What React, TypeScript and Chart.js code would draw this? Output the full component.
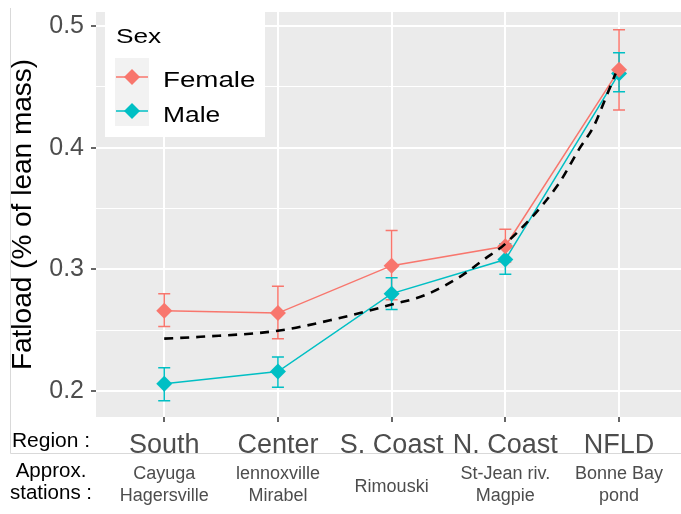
import React, { useEffect, useRef } from 'react';
import { Chart, registerables } from 'chart.js';

Chart.register(...registerables);

const FONT = '"Liberation Sans", Arial, sans-serif';

const categories = ['South', 'Center', 'S. Coast', 'N. Coast', 'NFLD'];
const stationsLine1 = ['Cayuga', 'lennoxville', '', 'St-Jean riv.', 'Bonne Bay'];
const stationsLine2 = ['Hagersville', 'Mirabel', '', 'Magpie', 'pond'];
const stationsMiddle = ['', '', 'Rimouski', '', ''];

const yTicks = [0.2, 0.25, 0.3, 0.35, 0.4, 0.45, 0.5];
const yTickLabels = ['0.2', '', '0.3', '', '0.4', '', '0.5'];

const femaleMean = [0.266, 0.264, 0.303, 0.319, 0.464];
const femaleLow = [0.253, 0.243, 0.275, 0.306, 0.431];
const femaleHigh = [0.280, 0.286, 0.332, 0.333, 0.497];

const maleMean = [0.206, 0.216, 0.280, 0.308, 0.461];
const maleLow = [0.192, 0.203, 0.267, 0.296, 0.446];
const maleHigh = [0.219, 0.228, 0.293, 0.321, 0.478];

const trendX = [0, 0.32, 1, 1.5, 2, 2.3, 2.62, 2.81, 3, 3.46, 3.65, 3.78, 3.87, 3.97];
const trendY = [0.243, 0.2445, 0.2495, 0.259, 0.271, 0.279, 0.295, 0.308, 0.321, 0.369, 0.399, 0.418, 0.438, 0.461];

const FEMALE = '#F8766D';
const MALE = '#00BFC4';

function txt(ctx: CanvasRenderingContext2D, s: string, x: number, y: number, size: number, color: string, align: CanvasTextAlign, sx = 1) {
  ctx.save();
  ctx.font = `${size}px ${FONT}`;
  ctx.fillStyle = color;
  ctx.textBaseline = 'alphabetic';
  ctx.textAlign = align;
  ctx.translate(x, y);
  ctx.scale(sx, 1);
  ctx.fillText(s, 0, 0);
  ctx.restore();
}

const panelBg = {
  id: 'panelBg',
  beforeDraw(chart: any) {
    const { ctx, chartArea: a } = chart;
    ctx.save();
    ctx.fillStyle = '#FFFFFF';
    ctx.fillRect(0, 0, chart.width, chart.height);
    ctx.fillStyle = '#EBEBEB';
    ctx.fillRect(a.left, a.top, a.right - a.left, a.bottom - a.top);
    ctx.restore();
  },
};

const errorBars = {
  id: 'errorBars',
  beforeDatasetsDraw(chart: any) {
    const { ctx } = chart;
    const xs = chart.scales.x;
    const ys = chart.scales.y;
    const series = [
      { color: FEMALE, low: femaleLow, high: femaleHigh },
      { color: MALE, low: maleLow, high: maleHigh },
    ];
    ctx.save();
    ctx.lineWidth = 1.5;
    series.forEach((s) => {
      ctx.strokeStyle = s.color;
      categories.forEach((_, i) => {
        const px = xs.getPixelForValue(i);
        const lo = ys.getPixelForValue(s.low[i]);
        const hi = ys.getPixelForValue(s.high[i]);
        ctx.beginPath();
        ctx.moveTo(px, lo);
        ctx.lineTo(px, hi);
        ctx.moveTo(px - 6, lo);
        ctx.lineTo(px + 6, lo);
        ctx.moveTo(px - 6, hi);
        ctx.lineTo(px + 6, hi);
        ctx.stroke();
      });
    });
    ctx.restore();
  },
};

const overlay = {
  id: 'overlay',
  afterDraw(chart: any) {
    const { ctx } = chart;
    const xs = chart.scales.x;
    ctx.save();
    // legend box
    ctx.fillStyle = '#FFFFFF';
    ctx.fillRect(105, 12, 160, 125);
    ctx.fillStyle = '#F2F2F2';
    ctx.fillRect(115, 58, 34, 68);
    const keys = [
      { label: 'Female', color: FEMALE, y: 77 },
      { label: 'Male', color: MALE, y: 111 },
    ];
    keys.forEach((k) => {
      ctx.strokeStyle = k.color;
      ctx.lineWidth = 1.5;
      ctx.beginPath();
      ctx.moveTo(116, k.y);
      ctx.lineTo(148, k.y);
      ctx.stroke();
      ctx.fillStyle = k.color;
      ctx.beginPath();
      ctx.moveTo(132, k.y - 8);
      ctx.lineTo(140, k.y);
      ctx.lineTo(132, k.y + 8);
      ctx.lineTo(124, k.y);
      ctx.closePath();
      ctx.fill();
    });
    txt(ctx, 'Sex', 116, 43, 21, '#000', 'left', 1.25);
    txt(ctx, 'Female', 163, 87, 22, '#000', 'left', 1.26);
    txt(ctx, 'Male', 163, 121.5, 22, '#000', 'left', 1.2);

    // border
    ctx.strokeStyle = '#D9D9D9';
    ctx.lineWidth = 1;
    ctx.beginPath();
    ctx.moveTo(10.5, 8);
    ctx.lineTo(10.5, 453.5);
    ctx.lineTo(681, 453.5);
    ctx.stroke();

    // bottom texts
    txt(ctx, 'Region :', 51, 447, 21, '#000', 'center');
    txt(ctx, 'Approx.', 51, 477, 20.5, '#000', 'center');
    txt(ctx, 'stations :', 51, 499, 20.5, '#000', 'center');
    categories.forEach((_, i) => {
      const px = xs.getPixelForValue(i);
      if (stationsLine1[i]) txt(ctx, stationsLine1[i], px, 479, 18, '#4D4D4D', 'center');
      if (stationsLine2[i]) txt(ctx, stationsLine2[i], px, 501, 18, '#4D4D4D', 'center');
      if (stationsMiddle[i]) txt(ctx, stationsMiddle[i], px, 492, 18, '#4D4D4D', 'center');
    });
    ctx.restore();
  },
};

const isMajor = (v: number) => Math.abs(v * 10 - Math.round(v * 10)) < 1e-6;

export default function App() {
  const ref = useRef<HTMLCanvasElement | null>(null);
  useEffect(() => {
    if (!ref.current) return;
    const chart = new Chart(ref.current, {
      type: 'line',
      data: {
        datasets: [
          {
            label: 'trend',
            data: trendX.map((x, i) => ({ x, y: trendY[i] })),
            borderColor: '#000',
            borderWidth: 2.6,
            borderDash: [9, 7],
            pointRadius: 0,
            cubicInterpolationMode: 'monotone',
            fill: false,
          },
          {
            label: 'Female',
            data: femaleMean.map((y, i) => ({ x: i, y })),
            borderColor: FEMALE,
            backgroundColor: FEMALE,
            borderWidth: 1.5,
            pointStyle: 'rectRot',
            pointRadius: 8,
            pointBorderWidth: 0,
            pointBackgroundColor: FEMALE,
            fill: false,
          },
          {
            label: 'Male',
            data: maleMean.map((y, i) => ({ x: i, y })),
            borderColor: MALE,
            backgroundColor: MALE,
            borderWidth: 1.5,
            pointStyle: 'rectRot',
            pointRadius: 8,
            pointBorderWidth: 0,
            pointBackgroundColor: MALE,
            fill: false,
          },
        ],
      } as any,
      options: {
        responsive: false,
        animation: false,
        devicePixelRatio: 1,
        layout: { autoPadding: false, padding: { top: 12, left: 0, right: 0, bottom: 0 } },
        plugins: { legend: { display: false }, tooltip: { enabled: false } },
        scales: {
          x: {
            type: 'linear',
            min: -0.6,
            max: 4.545,
            afterBuildTicks: (s: any) => {
              s.ticks = categories.map((_, i) => ({ value: i }));
            },
            afterFit: (s: any) => {
              s.height = 97;
              s.paddingLeft = 0;
              s.paddingRight = 0;
            },
            ticks: {
              callback: (v: any) => categories[Math.round(v)] ?? '',
              font: { family: FONT, size: 27 },
              color: '#4D4D4D',
              padding: 7,
              maxRotation: 0,
              autoSkip: false,
            },
            grid: { color: '#FFFFFF', lineWidth: 2, tickLength: 5, tickColor: '#333333', tickWidth: 1.5 },
            border: { display: false },
          },
          y: {
            type: 'linear',
            min: 0.1786,
            max: 0.5115,
            afterBuildTicks: (s: any) => {
              s.ticks = yTicks.map((v) => ({ value: v }));
            },
            afterFit: (s: any) => {
              s.width = 96;
              s.paddingTop = 0;
              s.paddingBottom = 0;
            },
            ticks: {
              callback: (_v: any, i: number) => yTickLabels[i],
              font: { family: FONT, size: 25 },
              color: '#4D4D4D',
              padding: 7,
            },
            grid: {
              color: '#FFFFFF',
              lineWidth: (c: any) => (c.tick && isMajor(c.tick.value) ? 2 : 1),
              tickLength: 5,
              tickColor: (c: any) => (c.tick && isMajor(c.tick.value) ? '#333333' : 'rgba(0,0,0,0)'),
              tickWidth: 1.5,
            },
            border: { display: false },
            title: {
              display: true,
              text: 'Fatload (% of lean mass)',
              font: { family: FONT, size: 28 },
              color: '#000',
              padding: { top: 6, bottom: 0 },
            },
          },
        },
      } as any,
      plugins: [panelBg, errorBars, overlay],
    });
    return () => chart.destroy();
  }, []);
  return (
    <div style={{ position: 'fixed', left: 0, top: 0, width: 681, height: 514, background: '#fff' }}>
      <canvas ref={ref} width={681} height={514} style={{ display: 'block', width: 681, height: 514 }} />
    </div>
  );
}
